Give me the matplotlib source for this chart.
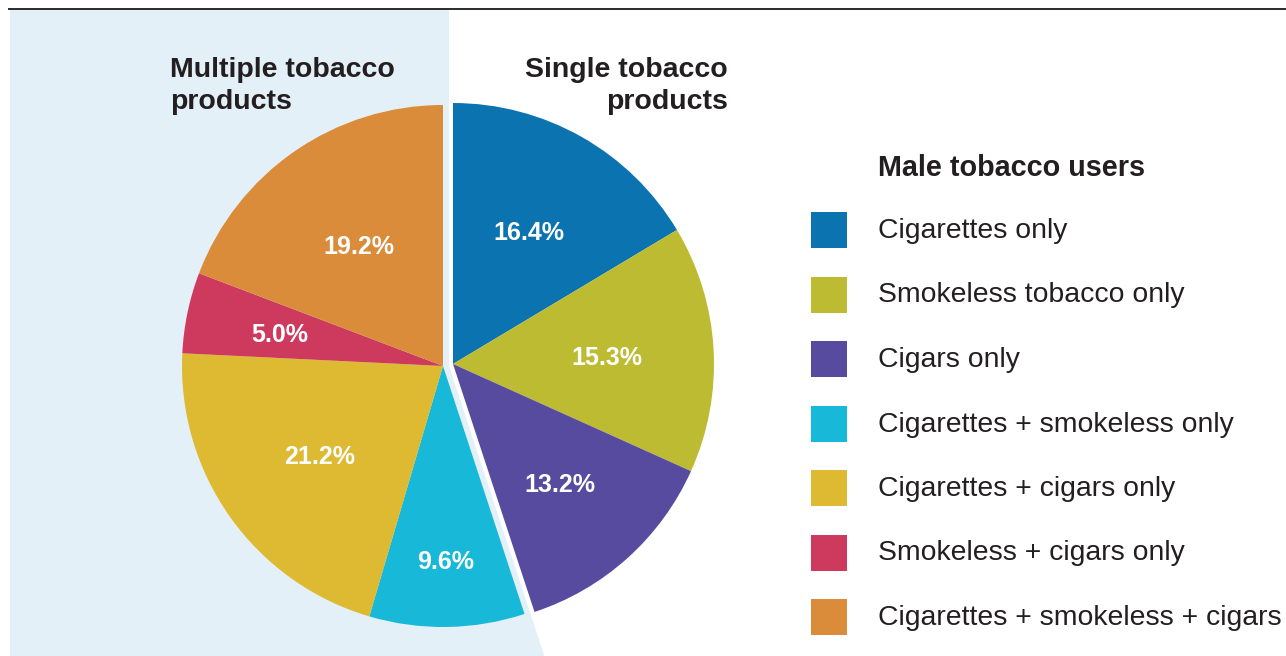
import numpy as np
import matplotlib.pyplot as plt
from matplotlib.patches import Polygon, Rectangle

# data
single_labels = ["Cigarettes only", "Smokeless tobacco only", "Cigars only"]
single_vals = [16.4, 15.3, 13.2]
multi_labels = ["Cigarettes + smokeless only", "Cigarettes + cigars only",
                "Smokeless + cigars only", "Cigarettes + smokeless + cigars"]
multi_vals = [9.6, 21.2, 5.0, 19.2]

single_colors = ["#0B73B0", "#BDBB32", "#574B9F"]
multi_colors = ["#18B8D8", "#DEB932", "#CE3A5E", "#DB8C3A"]

total = sum(single_vals) + sum(multi_vals)

W, H = 1286, 656
fig = plt.figure(figsize=(W / 100, H / 100), dpi=100)
ax = fig.add_axes([0, 0, 1, 1])

R = 261
c_multi = (443, H - 366)
c_single = (453, H - 364)
bold = ["Liberation Sans", "DejaVu Sans"]
dark = "#231F20"

# light blue background behind the "multiple" half
theta = np.deg2rad(360 * sum(single_vals) / total)
bx, by = 449, H - 366
t = by / -np.cos(theta)
bg = Polygon([(10, H - 10), (bx, H - 10), (bx, by), (bx + t * np.sin(theta), 0), (10, 0)],
             closed=True, facecolor="#E4F0F7", edgecolor="none", zorder=0)
ax.add_patch(bg)
ax.plot([9, W], [H - 9, H - 9], color="#2b2b2b", lw=1.4, zorder=1)

wedges1, _, at1 = ax.pie([v / total for v in single_vals], colors=single_colors, radius=R,
                         center=c_single, startangle=90, counterclock=False, normalize=False,
                         autopct="%.1f%%", pctdistance=0.6,
                         wedgeprops=dict(linewidth=0), textprops=dict(color="white"))
start2 = 90 - 360 * sum(single_vals) / total
wedges2, _, at2 = ax.pie([v / total for v in multi_vals], colors=multi_colors, radius=R,
                         center=c_multi, startangle=start2, counterclock=False, normalize=False,
                         autopct="%.1f%%", pctdistance=0.6,
                         wedgeprops=dict(linewidth=0), textprops=dict(color="white"))

label_r = [0.59, 0.59, 0.61, 0.74, 0.58, 0.64, 0.57]
for txt, v, r, c in zip(list(at1) + list(at2), single_vals + multi_vals, label_r,
                        [c_single] * 3 + [c_multi] * 4):
    x, y = txt.get_position()
    txt.set_position((c[0] + (x - c[0]) * r / 0.6, c[1] + (y - c[1]) * r / 0.6 - 3))
    txt.set_text(f"{v:.1f}%")
    txt.set_fontfamily(bold)
    txt.set_fontweight("bold")
    txt.set_fontsize(18)

ax.set_xlim(0, W)
ax.set_ylim(0, H)
ax.axis("off")

ax.text(170, H - 86, "Multiple tobacco\nproducts", ha="left", va="center", fontsize=20.5,
        fontweight="bold", family=bold, color=dark, linespacing=1.32)
ax.text(728, H - 86, "Single tobacco\nproducts", ha="right", va="center", fontsize=20.5,
        fontweight="bold", family=bold, color=dark, linespacing=1.32, multialignment="right")

# legend
ax.text(878, H - 168, "Male tobacco users", ha="left", va="center", fontsize=20.7,
        fontweight="bold", family=bold, color=dark)
for i, (lab, col) in enumerate(zip(single_labels + multi_labels, single_colors + multi_colors)):
    yc = H - (230 + i * 64.5)
    ax.add_patch(Rectangle((811, yc - 18), 36, 36, facecolor=col, edgecolor="none"))
    ax.text(878, yc - 1, lab, ha="left", va="center", fontsize=20.4, family=bold, color=dark)

fig.savefig("out.png", dpi=100)
